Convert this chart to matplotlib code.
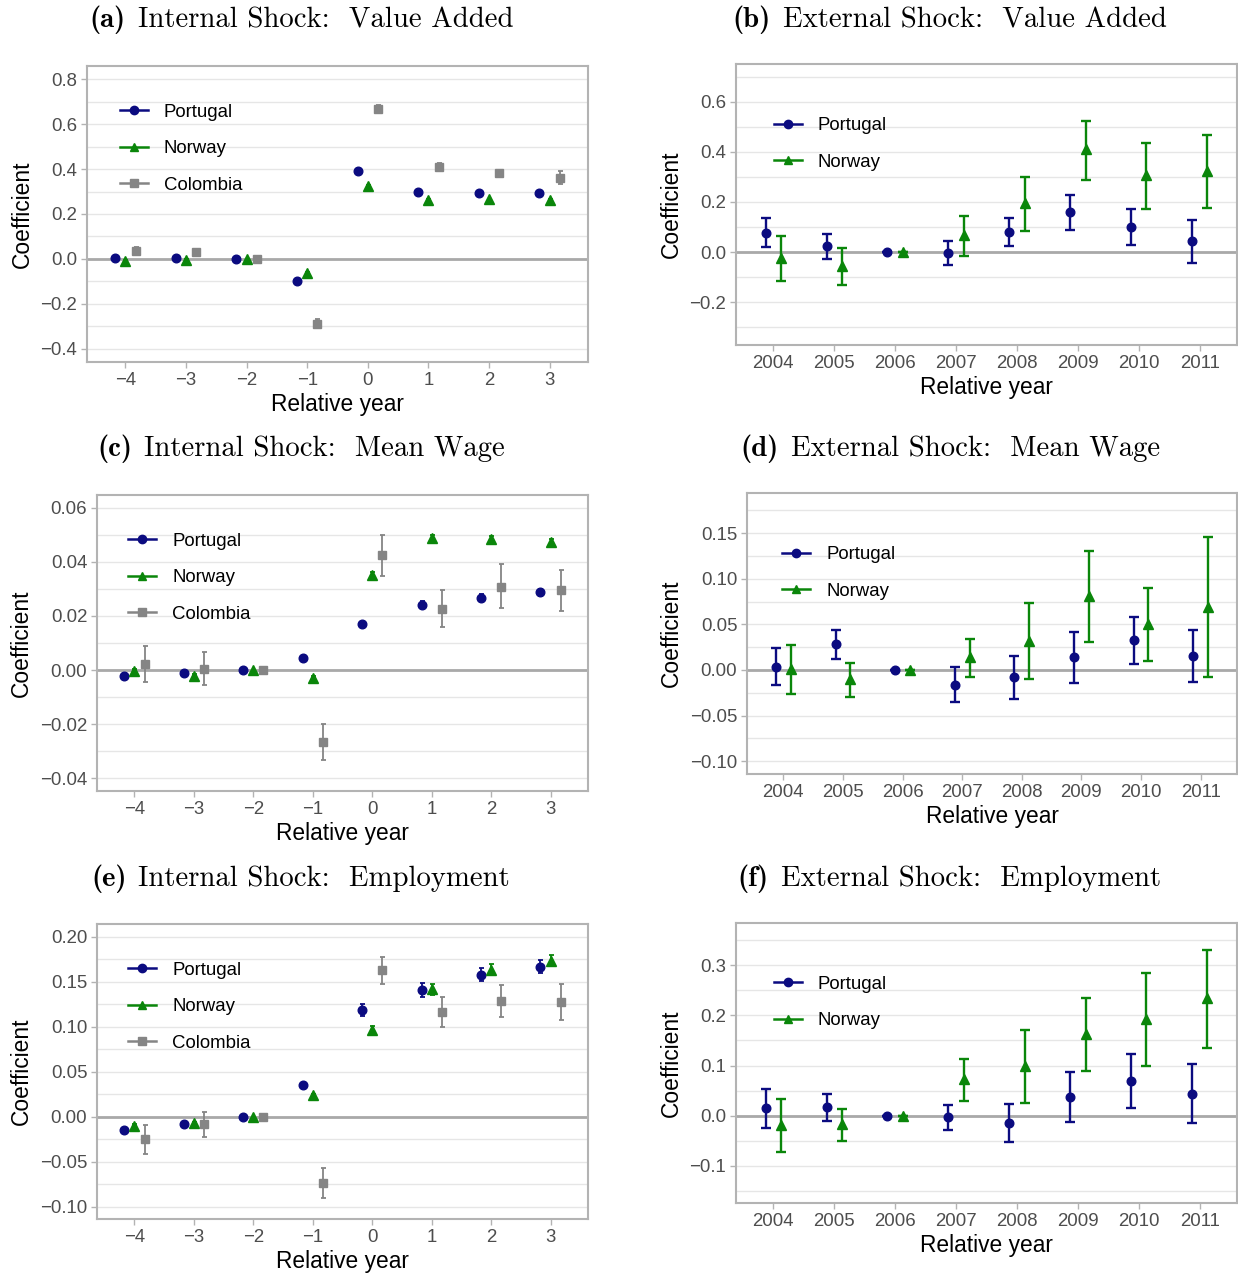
import matplotlib
matplotlib.use("Agg")
import matplotlib.pyplot as plt
from matplotlib.lines import Line2D
from matplotlib.ticker import MultipleLocator
import numpy as np

plt.rcParams['font.family'] = ['Liberation Sans', 'DejaVu Sans']
plt.rcParams['mathtext.fontset'] = 'cm'

# ---------------- data ----------------
rel_years = [-4, -3, -2, -1, 0, 1, 2, 3]
cal_years = [2004, 2005, 2006, 2007, 2008, 2009, 2010, 2011]
countries = ["Portugal", "Norway", "Colombia"]

# (a) Internal shock: value added
a_por = [0.004, 0.004, 0.0, -0.100, 0.393, 0.300, 0.292, 0.294]
a_por_lo = [-0.001, -0.001, 0.0, -0.105, 0.388, 0.295, 0.287, 0.289]
a_por_hi = [0.009, 0.009, 0.0, -0.095, 0.398, 0.305, 0.297, 0.299]
a_nor = [-0.008, -0.006, 0.0, -0.061, 0.325, 0.263, 0.265, 0.263]
a_nor_lo = [-0.012, -0.010, 0.0, -0.065, 0.321, 0.259, 0.261, 0.259]
a_nor_hi = [-0.004, -0.002, 0.0, -0.057, 0.329, 0.267, 0.269, 0.267]
a_col = [0.037, 0.031, 0.0, -0.290, 0.668, 0.411, 0.383, 0.360]
a_col_lo = [0.022, 0.018, 0.0, -0.310, 0.652, 0.396, 0.368, 0.333]
a_col_hi = [0.052, 0.044, 0.0, -0.270, 0.684, 0.426, 0.398, 0.390]

# (b) External shock: value added
b_por = [0.077, 0.024, 0.0, -0.003, 0.081, 0.159, 0.101, 0.043]
b_por_lo = [0.020, -0.027, 0.0, -0.051, 0.025, 0.087, 0.029, -0.044]
b_por_hi = [0.135, 0.072, 0.0, 0.044, 0.137, 0.229, 0.172, 0.129]
b_nor = [-0.023, -0.055, 0.0, 0.068, 0.195, 0.411, 0.308, 0.325]
b_nor_lo = [-0.116, -0.131, 0.0, -0.015, 0.085, 0.289, 0.172, 0.177]
b_nor_hi = [0.063, 0.015, 0.0, 0.143, 0.299, 0.524, 0.437, 0.469]

# (c) Internal shock: mean wage
c_por = [-0.0022, -0.0010, 0.0, 0.0044, 0.0170, 0.0242, 0.0268, 0.0287]
c_por_lo = [-0.0032, -0.0019, 0.0, 0.0038, 0.0162, 0.0228, 0.0255, 0.0273]
c_por_hi = [-0.0012, -0.0001, 0.0, 0.0050, 0.0178, 0.0256, 0.0281, 0.0301]
c_nor = [-0.0005, -0.0021, 0.0, -0.0031, 0.0351, 0.0489, 0.0485, 0.0473]
c_nor_lo = [-0.0015, -0.0029, 0.0, -0.0039, 0.0340, 0.0478, 0.0474, 0.0462]
c_nor_hi = [0.0005, -0.0013, 0.0, -0.0023, 0.0362, 0.0500, 0.0496, 0.0484]
c_col = [0.0024, 0.0005, 0.0, -0.0265, 0.0424, 0.0227, 0.0309, 0.0295]
c_col_lo = [-0.0043, -0.0057, 0.0, -0.0332, 0.0348, 0.0159, 0.0231, 0.0220]
c_col_hi = [0.0090, 0.0067, 0.0, -0.0201, 0.0501, 0.0296, 0.0391, 0.0370]

# (d) External shock: mean wage
d_por = [0.0037, 0.0281, 0.0, -0.0161, -0.0080, 0.0139, 0.0325, 0.0157]
d_por_lo = [-0.0168, 0.0117, 0.0, -0.0354, -0.0314, -0.0139, 0.0066, -0.0131]
d_por_hi = [0.0237, 0.0438, 0.0, 0.0029, 0.0153, 0.0413, 0.0584, 0.0438]
d_nor = [0.0007, -0.0099, 0.0, 0.0146, 0.0321, 0.0810, 0.0504, 0.0694]
d_nor_lo = [-0.0267, -0.0299, 0.0, -0.0077, -0.0099, 0.0303, 0.0102, -0.0080]
d_nor_hi = [0.0274, 0.0077, 0.0, 0.0340, 0.0734, 0.1300, 0.0894, 0.1460]

# (e) Internal shock: employment
e_por = [-0.0152, -0.0085, 0.0, 0.0352, 0.1185, 0.1407, 0.1578, 0.1667]
e_por_lo = [-0.0172, -0.0105, 0.0, 0.0332, 0.1115, 0.1333, 0.1508, 0.1597]
e_por_hi = [-0.0132, -0.0065, 0.0, 0.0372, 0.1255, 0.1481, 0.1648, 0.1737]
e_nor = [-0.0104, -0.0074, 0.0, 0.0237, 0.0963, 0.1415, 0.1633, 0.1733]
e_nor_lo = [-0.0124, -0.0094, 0.0, 0.0217, 0.0923, 0.1355, 0.1573, 0.1673]
e_nor_hi = [-0.0084, -0.0054, 0.0, 0.0257, 0.1003, 0.1475, 0.1693, 0.1793]
e_col = [-0.0248, -0.0081, 0.0, -0.0733, 0.1626, 0.1163, 0.1285, 0.1274]
e_col_lo = [-0.0415, -0.0222, 0.0, -0.0900, 0.1478, 0.0996, 0.1111, 0.1078]
e_col_hi = [-0.0089, 0.0052, 0.0, -0.0570, 0.1778, 0.1330, 0.1459, 0.1478]

# (f) External shock: employment
f_por = [0.0146, 0.0166, 0.0, -0.0033, -0.0153, 0.0372, 0.0684, 0.0439]
f_por_lo = [-0.0246, -0.0106, 0.0, -0.0292, -0.0532, -0.0133, 0.0146, -0.0153]
f_por_hi = [0.0538, 0.0439, 0.0, 0.0219, 0.0239, 0.0877, 0.1223, 0.1030]
f_nor = [-0.0179, -0.0166, 0.0, 0.0731, 0.0990, 0.1635, 0.1920, 0.2339]
f_nor_lo = [-0.0724, -0.0505, 0.0, 0.0299, 0.0252, 0.0884, 0.0983, 0.1355]
f_nor_hi = [0.0332, 0.0140, 0.0, 0.1136, 0.1708, 0.2352, 0.2837, 0.3296]

panel_tags = ["(a)", "(b)", "(c)", "(d)", "(e)", "(f)"]
panel_titles = [
    "Internal Shock:  Value Added",
    "External Shock:  Value Added",
    "Internal Shock:  Mean Wage",
    "External Shock:  Mean Wage",
    "Internal Shock:  Employment",
    "External Shock:  Employment",
]

# ---------------- style ----------------
COL = {"Portugal": "#0b0b80", "Norway": "#0a860a", "Colombia": "#858585"}
MARK = {"Portugal": "o", "Norway": "^", "Colombia": "s"}
SPINE = "#b3b3b3"
GRID = "#e6e6e6"
ZERO = "#a9a9a9"
TICKC = "#4d4d4d"

W, H = 1238, 1276
fig = plt.figure(figsize=(W / 100, H / 100), dpi=100)


def add_ax(l, t, r, b):
    return fig.add_axes([l / W, 1 - b / H, (r - l) / W, (b - t) / H])


def style(ax, ylim, major, minor, xlim):
    ax.set_xlim(*xlim)
    ax.set_ylim(*ylim)
    ax.yaxis.set_major_locator(MultipleLocator(major))
    ax.yaxis.set_minor_locator(MultipleLocator(minor))
    ax.grid(True, axis="y", which="both", color=GRID, lw=1.0, zorder=0)
    ax.set_axisbelow(True)
    for s in ax.spines.values():
        s.set_color(SPINE)
        s.set_linewidth(1.5)
    ax.tick_params(axis="both", which="major", direction="out", length=4,
                   width=1.0, color=SPINE, labelcolor=TICKC, labelsize=13.4, pad=3)
    ax.tick_params(axis="y", which="minor", length=0)
    ax.axhline(0, color=ZERO, lw=2.0, zorder=1)
    ax.set_ylabel("Coefficient", fontsize=16.4, color="black", labelpad=5)
    ax.set_xlabel("Relative year", fontsize=16.4, color="black", labelpad=3)


def series(ax, x, y, lo, hi, name, capsize, elw, ms):
    y = np.asarray(y)
    err = np.vstack([y - np.asarray(lo), np.asarray(hi) - y])
    ax.errorbar(x, y, yerr=err, fmt="none", ecolor=COL[name], elinewidth=elw,
                capsize=capsize, capthick=elw, zorder=2)
    ax.plot(x, y, ls="none", marker=MARK[name], color=COL[name], ms=ms,
            mec=COL[name], zorder=3)


def legend(ax, names, x0, y0):
    handles = [Line2D([0], [0], color=COL[n], marker=MARK[n], ms=6, lw=1.8) for n in names]
    ax.legend(handles, names, loc="upper left", bbox_to_anchor=(x0, y0), frameon=False,
              fontsize=13.4, handlelength=1.5, handletextpad=0.85, labelspacing=1.04,
              borderaxespad=0, borderpad=0)


int_xlim = (-4.63, 3.63)
ext_xlim = (2003.39, 2011.61)
rx = np.array(rel_years, dtype=float)
cx = np.array(cal_years, dtype=float)
off3 = 0.17
off2 = 0.125

# (a)
ax = add_ax(87, 66, 588, 362)
style(ax, (-0.46, 0.86), 0.2, 0.1, int_xlim)
series(ax, rx - off3, a_por, a_por_lo, a_por_hi, "Portugal", 1.8, 1.3, 6.2)
series(ax, rx, a_nor, a_nor_lo, a_nor_hi, "Norway", 1.8, 1.3, 6.7)
series(ax, rx + off3, a_col, a_col_lo, a_col_hi, "Colombia", 1.8, 1.3, 6.4)
ax.set_xticks(rel_years)
legend(ax, countries, 0.066, 0.872)

# (b)
ax = add_ax(736, 64, 1237, 345)
style(ax, (-0.372, 0.752), 0.2, 0.1, ext_xlim)
series(ax, cx - off2, b_por, b_por_lo, b_por_hi, "Portugal", 3.4, 1.7, 6.2)
series(ax, cx + off2, b_nor, b_nor_lo, b_nor_hi, "Norway", 3.4, 1.7, 6.7)
ax.set_xticks(cal_years)
legend(ax, countries[:2], 0.076, 0.81)

# (c)
ax = add_ax(97, 495, 588, 791)
style(ax, (-0.0448, 0.0648), 0.02, 0.01, int_xlim)
series(ax, rx - off3, c_por, c_por_lo, c_por_hi, "Portugal", 1.8, 1.3, 6.2)
series(ax, rx, c_nor, c_nor_lo, c_nor_hi, "Norway", 1.8, 1.3, 6.7)
series(ax, rx + off3, c_col, c_col_lo, c_col_hi, "Colombia", 1.8, 1.3, 6.4)
ax.set_xticks(rel_years)
legend(ax, countries, 0.064, 0.872)

# (d)
ax = add_ax(747, 493, 1237, 774)
style(ax, (-0.114, 0.194), 0.05, 0.025, ext_xlim)
series(ax, cx - off2, d_por, d_por_lo, d_por_hi, "Portugal", 3.4, 1.7, 6.2)
series(ax, cx + off2, d_nor, d_nor_lo, d_nor_hi, "Norway", 3.4, 1.7, 6.7)
ax.set_xticks(cal_years)
legend(ax, countries[:2], 0.072, 0.81)

# (e)
ax = add_ax(97, 924, 588, 1219)
style(ax, (-0.1137, 0.214), 0.05, 0.025, int_xlim)
series(ax, rx - off3, e_por, e_por_lo, e_por_hi, "Portugal", 1.8, 1.3, 6.2)
series(ax, rx, e_nor, e_nor_lo, e_nor_hi, "Norway", 1.8, 1.3, 6.7)
series(ax, rx + off3, e_col, e_col_lo, e_col_hi, "Colombia", 1.8, 1.3, 6.4)
ax.set_xticks(rel_years)
legend(ax, countries, 0.064, 0.872)

# (f)
ax = add_ax(736, 923, 1237, 1203)
style(ax, (-0.174, 0.384), 0.1, 0.05, ext_xlim)
series(ax, cx - off2, f_por, f_por_lo, f_por_hi, "Portugal", 3.4, 1.7, 6.2)
series(ax, cx + off2, f_nor, f_nor_lo, f_nor_hi, "Norway", 3.4, 1.7, 6.7)
ax.set_xticks(cal_years)
legend(ax, countries[:2], 0.076, 0.812)

# titles (serif, LaTeX-like): bold tag + roman text, centred as a whole
title_pos = [(301.5, 18), (949.5, 18), (301, 447), (950, 447), (300.5, 877), (949.5, 877)]
fig.canvas.draw()
renderer = fig.canvas.get_renderer()
GAP = 12
for tag, txt, (px, py) in zip(panel_tags, panel_titles, title_pos):
    t1 = fig.text(0, 1 - py / H, tag, ha="left", va="baseline", fontsize=20.7, family="cmb10")
    t2 = fig.text(0, 1 - py / H, txt, ha="left", va="baseline", fontsize=20.7, family="cmr10")
    w1 = t1.get_window_extent(renderer).width
    w2 = t2.get_window_extent(renderer).width
    total = w1 + GAP + w2
    x0 = px - total / 2
    base = 1 - (py + 9) / H
    t1.set_position((x0 / W, base))
    t2.set_position(((x0 + w1 + GAP) / W, base))

fig.savefig("out.png", dpi=100)
